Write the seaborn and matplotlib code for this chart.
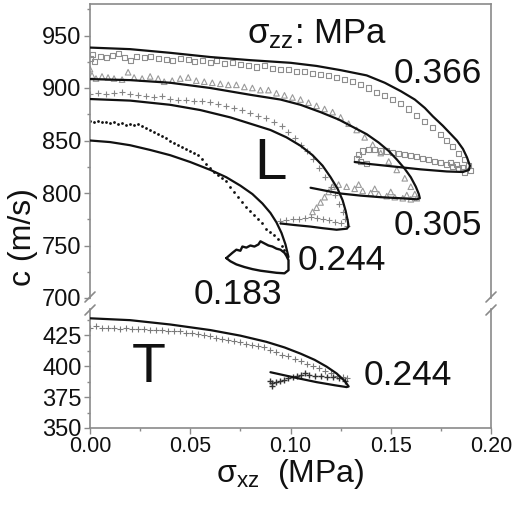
import matplotlib
matplotlib.use("Agg")
import matplotlib.pyplot as plt
from matplotlib.lines import Line2D
from matplotlib.ticker import MultipleLocator
import seaborn as sns

# --- theory curves (solid black), sigma_zz in MPa ---
l366_x = [0, 0.02, 0.04, 0.06, 0.08, 0.10, 0.113, 0.125, 0.138, 0.147, 0.155, 0.162, 0.167,
          0.171, 0.176, 0.180, 0.183, 0.186, 0.188, 0.1895, 0.189, 0.186, 0.178, 0.165, 0.15, 0.14, 0.132]
l366_y = [938.5, 937, 933.5, 929.5, 926.5, 924, 921, 917, 912, 905, 897, 889, 881,
          873, 864, 856, 850, 842, 834, 826, 822, 820, 820.5, 822.5, 825.5, 827.5, 829.5]

l305_x = [0, 0.02, 0.04, 0.06, 0.08, 0.095, 0.105, 0.115, 0.124, 0.132, 0.138, 0.144, 0.149,
          0.153, 0.157, 0.160, 0.1625, 0.164, 0.1645, 0.163, 0.155, 0.145, 0.135, 0.125, 0.118, 0.11]
l305_y = [908.5, 907.5, 905, 900, 893.5, 889, 884, 877, 870, 862, 856, 848, 840,
          832, 823, 815, 806, 799, 795, 794, 795, 796, 797.5, 799.5, 802, 805]

l244_x = [0, 0.02, 0.04, 0.055, 0.07, 0.08, 0.09, 0.098, 0.105, 0.111, 0.116, 0.120, 0.1235,
          0.126, 0.1275, 0.1285, 0.129, 0.128, 0.123, 0.116, 0.11, 0.102, 0.095]
l244_y = [889.5, 888, 884, 879, 872, 866, 860, 853, 845, 836, 826, 815, 804,
          793, 783, 774, 768, 766, 765, 766.5, 768, 769.5, 771]

l183_x = [0, 0.01, 0.02, 0.03, 0.04, 0.05, 0.06, 0.068, 0.075, 0.081, 0.086, 0.090, 0.093,
          0.0955, 0.0975, 0.099]
l183_y = [850, 848.5, 845.5, 841, 836, 829.5, 822, 815, 807, 799, 790, 781, 772,
          762, 751, 739]

t244_x = [0, 0.02, 0.04, 0.06, 0.075, 0.088, 0.097, 0.105, 0.112, 0.118, 0.123, 0.127, 0.129,
          0.128, 0.122, 0.113, 0.105, 0.097, 0.09]
t244_y = [438.5, 437, 433.5, 429, 424.5, 419.5, 415, 410, 405, 399.5, 394, 388, 383.5,
          383, 384.5, 387, 389.7, 392.5, 395]

# --- measured data ---
sq_x = [0.000, 0.001, 0.002, 0.005, 0.008, 0.011, 0.014, 0.017, 0.020, 0.023, 0.027, 0.030, 0.034,
        0.038, 0.041, 0.045, 0.049, 0.052, 0.056, 0.060, 0.063, 0.067, 0.071, 0.075, 0.079, 0.083,
        0.087, 0.091, 0.095, 0.099, 0.103, 0.107, 0.111, 0.115, 0.119, 0.123, 0.127, 0.131, 0.135,
        0.139, 0.143, 0.147, 0.151, 0.155, 0.159, 0.163, 0.167, 0.171, 0.175, 0.178, 0.181, 0.184,
        0.187, 0.189, 0.190,
        0.187, 0.184, 0.181, 0.178, 0.175, 0.172, 0.169, 0.166, 0.163, 0.160, 0.157, 0.154, 0.151,
        0.148, 0.145, 0.142, 0.139, 0.136, 0.134, 0.133, 0.135, 0.138, 0.186, 0.183, 0.180]
sq_y = [928, 932, 925, 930, 929, 931, 933, 929, 926, 930, 929, 930, 928,
        927, 926, 928, 927, 925, 926, 924, 926, 923, 924, 922, 921, 920,
        921, 919, 918, 918, 916, 916, 914, 913, 912, 910, 908, 906, 903,
        900, 896, 893, 889, 885, 880, 874, 868, 862, 856, 850, 844, 838,
        832, 826, 821,
        820, 823, 825, 827, 829, 830, 832, 833, 835, 836, 837, 838, 839,
        840, 840, 841, 841, 840, 837, 833, 830, 828, 824, 827, 829]

tri_x = [0.000, 0.001, 0.003, 0.006, 0.009, 0.012, 0.016, 0.019, 0.022, 0.026, 0.030, 0.034,
         0.037, 0.041, 0.045, 0.049, 0.053, 0.057, 0.061, 0.065, 0.069, 0.073, 0.077, 0.081,
         0.085, 0.089, 0.093, 0.097, 0.101, 0.105, 0.109, 0.113, 0.117, 0.121, 0.125, 0.129,
         0.133, 0.137, 0.141, 0.145, 0.149, 0.153, 0.157, 0.160, 0.162, 0.163,
         0.160, 0.156, 0.152, 0.148, 0.144, 0.140, 0.136, 0.132, 0.128, 0.124, 0.121, 0.119,
         0.117, 0.115, 0.113, 0.111, 0.158, 0.150, 0.142, 0.134]
tri_y = [918, 912, 909, 911, 910, 909, 908, 915, 910, 909, 911, 909,
         906, 907, 909, 910, 907, 906, 905, 904, 903, 903, 901, 900,
         898, 898, 895, 893, 891, 889, 886, 883, 880, 877, 872, 866,
         860, 853, 846, 838, 830, 822, 814, 806, 799, 795,
         794, 795, 796, 797, 799, 800, 802, 804, 806, 808, 806, 801,
         796, 791, 786, 782, 798, 801, 804, 808]

cr_x = [0.000, 0.004, 0.008, 0.012, 0.016, 0.020, 0.024, 0.028, 0.032, 0.036, 0.040, 0.044,
        0.048, 0.052, 0.056, 0.060, 0.064, 0.068, 0.072, 0.076, 0.080, 0.084, 0.088, 0.092,
        0.096, 0.099, 0.102, 0.105, 0.108, 0.111, 0.114, 0.117, 0.120, 0.122, 0.124, 0.126,
        0.127, 0.128,
        0.125, 0.122, 0.119, 0.116, 0.113, 0.110, 0.107, 0.104, 0.101, 0.098, 0.095]
cr_y = [894, 895, 894, 895, 896, 894, 893, 892, 891, 892, 890, 889,
        889, 888, 888, 887, 885, 883, 881, 879, 876, 873, 871, 868,
        864, 858, 852, 846, 840, 832, 824, 815, 806, 798, 790, 782,
        775, 769,
        771, 772, 774, 775, 776, 777, 776, 775, 775, 774, 773]

dot_x = [0.000, 0.002, 0.004, 0.006, 0.008, 0.010, 0.012, 0.014, 0.016, 0.018, 0.020, 0.022,
         0.024, 0.026, 0.028, 0.030, 0.032, 0.034, 0.036, 0.038, 0.040, 0.042, 0.044, 0.046,
         0.048, 0.050, 0.052, 0.054, 0.056, 0.058, 0.060, 0.062, 0.064, 0.066, 0.068, 0.070,
         0.072, 0.074, 0.076, 0.078, 0.080, 0.082, 0.084, 0.086, 0.088, 0.090, 0.092, 0.094,
         0.096, 0.097, 0.098]
dot_y = [869, 868, 869, 868, 868, 867, 868, 866, 867, 865, 866, 865,
         866, 864, 862, 860, 858, 856, 854, 852, 850, 848, 846, 844,
         842, 840, 838, 836, 832, 828, 824, 820, 817, 814, 811, 806,
         801, 796, 791, 787, 783, 779, 775, 771, 766, 763, 760, 756,
         750, 746, 742]

loop183_x = [0.068, 0.071, 0.073, 0.075, 0.076, 0.078, 0.080, 0.082, 0.084, 0.085, 0.087, 0.089,
             0.091, 0.093, 0.095, 0.097, 0.098, 0.099, 0.099, 0.099, 0.097, 0.093, 0.089, 0.085,
             0.081, 0.077, 0.073, 0.070, 0.068]
loop183_y = [738, 743, 746, 745, 749, 748, 750, 749, 751, 754, 752, 750,
             749, 747, 746, 743, 740, 736, 731, 726.5, 723.5, 724, 725, 726,
             727.5, 729.5, 732, 735, 738]

tcr_x = [0.000, 0.003, 0.006, 0.009, 0.012, 0.015, 0.018, 0.021, 0.024, 0.027, 0.030, 0.033,
         0.036, 0.039, 0.042, 0.045, 0.048, 0.051, 0.054, 0.057, 0.060, 0.063, 0.066, 0.069,
         0.072, 0.075, 0.078, 0.081, 0.084, 0.087, 0.090, 0.093, 0.096, 0.099, 0.102, 0.105,
         0.108, 0.111, 0.114, 0.117, 0.120, 0.123, 0.126, 0.128]
tcr_y = [431, 432, 431, 431, 431, 430, 431, 430, 430, 430, 429, 429,
         429, 428, 428, 428, 427, 427, 426, 425, 424, 423, 422, 421,
         420, 419, 418, 417, 416, 415, 413, 411, 409, 408, 406, 404,
         402, 400, 398, 396, 394, 392, 391, 390]
tret_x = [0.127, 0.124, 0.121, 0.118, 0.115, 0.112, 0.109, 0.107, 0.105, 0.103, 0.101, 0.099,
          0.097, 0.095, 0.093, 0.091, 0.090, 0.091]
tret_y = [388, 390, 391, 391, 392, 392, 393, 394, 393, 392, 391, 390,
          389, 388, 387, 386, 388, 384]

W, H = 513, 505
sns.set_style("ticks")
plt.rcParams["font.family"] = ["Liberation Sans", "DejaVu Sans"]
plt.rcParams["mathtext.fontset"] = "custom"
plt.rcParams["mathtext.rm"] = "Liberation Sans"

fig = plt.figure(figsize=(W / 100, H / 100), dpi=100)
ax_top = fig.add_axes([90 / W, 1 - 298 / H, 401 / W, 294 / H])
ax_bot = fig.add_axes([90 / W, 1 - 428 / H, 401 / W, 119 / H])

spine_c = "#8a8a8a"
ink = "#111111"

# upper panel: longitudinal
sns.scatterplot(x=sq_x, y=sq_y, marker="s", s=13, color="none", edgecolor="#8e8e8e",
                linewidth=0.8, ax=ax_top, zorder=2)
sns.scatterplot(x=tri_x, y=tri_y, marker="^", s=16, color="none", edgecolor="#9a9a9a",
                linewidth=0.8, ax=ax_top, zorder=2)
sns.scatterplot(x=cr_x, y=cr_y, marker="+", s=15, color="#858585", linewidth=0.8,
                ax=ax_top, zorder=2)
sns.scatterplot(x=dot_x, y=dot_y, marker="o", s=4, color="#111111", linewidth=0,
                ax=ax_top, zorder=2)
sns.lineplot(x=loop183_x, y=loop183_y, sort=False, estimator=None, color="#111111",
             linewidth=1.7, ax=ax_top, zorder=3)
for cx, cy in [(l366_x, l366_y), (l305_x, l305_y), (l244_x, l244_y), (l183_x, l183_y)]:
    sns.lineplot(x=cx, y=cy, sort=False, estimator=None, color="#111111",
                 linewidth=1.6, ax=ax_top, zorder=3)

# lower panel: transverse
sns.scatterplot(x=tcr_x, y=tcr_y, marker="+", s=15, color="#7a7a7a", linewidth=0.8,
                ax=ax_bot, zorder=2)
sns.scatterplot(x=tret_x, y=tret_y, marker="+", s=18, color="#333333", linewidth=1.0,
                ax=ax_bot, zorder=2)
sns.lineplot(x=t244_x, y=t244_y, sort=False, estimator=None, color="#111111",
             linewidth=1.6, ax=ax_bot, zorder=3)

for ax in (ax_top, ax_bot):
    ax.set_xlim(0, 0.20)
    ax.set_xlabel("")
    ax.set_ylabel("")
    for sp in ax.spines.values():
        sp.set_color(spine_c)
        sp.set_linewidth(1.2)
        sp.set_visible(True)
    ax.xaxis.set_major_locator(MultipleLocator(0.05))
    ax.xaxis.set_minor_locator(MultipleLocator(0.025))
    ax.tick_params(axis="both", which="major", direction="out", length=4, width=1,
                   color=spine_c, labelcolor=ink, pad=2)
    ax.tick_params(axis="y", which="major", labelsize=17)
    ax.tick_params(axis="x", which="major", labelsize=15.5)
    ax.tick_params(axis="both", which="minor", direction="out", length=2.5, width=1,
                   color=spine_c)
    ax.tick_params(axis="y", which="both", right=False)
    ax.tick_params(axis="x", which="both", top=False)

ax_top.set_ylim(700, 980)
ax_top.yaxis.set_major_locator(MultipleLocator(50))
ax_top.yaxis.set_minor_locator(MultipleLocator(25))
ax_top.spines["bottom"].set_visible(False)
ax_top.tick_params(axis="x", which="both", bottom=False, labelbottom=False)

ax_bot.set_ylim(350, 446)
ax_bot.yaxis.set_major_locator(MultipleLocator(25))
ax_bot.yaxis.set_minor_locator(MultipleLocator(12.5))
ax_bot.spines["top"].set_visible(False)
ax_bot.set_xticks([0, 0.05, 0.10, 0.15, 0.20])
ax_bot.set_xticklabels(["0.00", "0.05", "0.10", "0.15", "0.20"])

# axis break marks
for px in (90, 491):
    for py in (297, 310):
        fig.add_artist(Line2D([(px - 5) / W, (px + 5) / W], [1 - (py + 5) / H, 1 - (py - 5) / H],
                              transform=fig.transFigure, color=spine_c, linewidth=1.2))

# annotations
ax_top.text(0.0783, 943, r"$\mathregular{\sigma_{zz}}$: MPa", fontsize=25, color=ink,
            ha="left", va="baseline")
ax_top.text(0.1735, 914, "0.366", fontsize=25.5, color=ink, ha="center", va="center")
ax_top.text(0.1735, 769, "0.305", fontsize=25.5, color=ink, ha="center", va="center")
ax_top.text(0.1255, 736, "0.244", fontsize=25.5, color=ink, ha="center", va="center")
ax_top.text(0.0738, 703, "0.183", fontsize=25.5, color=ink, ha="center", va="center")
ax_top.text(0.0898, 828, "L", fontsize=42, color=ink, ha="center", va="center")
ax_bot.text(0.1585, 392, "0.244", fontsize=25.5, color=ink, ha="center", va="center")
ax_bot.text(0.0294, 398, "T", fontsize=40, color=ink, ha="center", va="center")

fig.text(23 / W, 1 - 237 / H, "c (m/s)", rotation=90, fontsize=23, color=ink,
         ha="center", va="center")
fig.text(290 / W, 1 - 474 / H, r"$\mathregular{\sigma_{xz}}$  (MPa)", fontsize=23, color=ink,
         ha="center", va="center")

fig.savefig("out.png", dpi=100)
